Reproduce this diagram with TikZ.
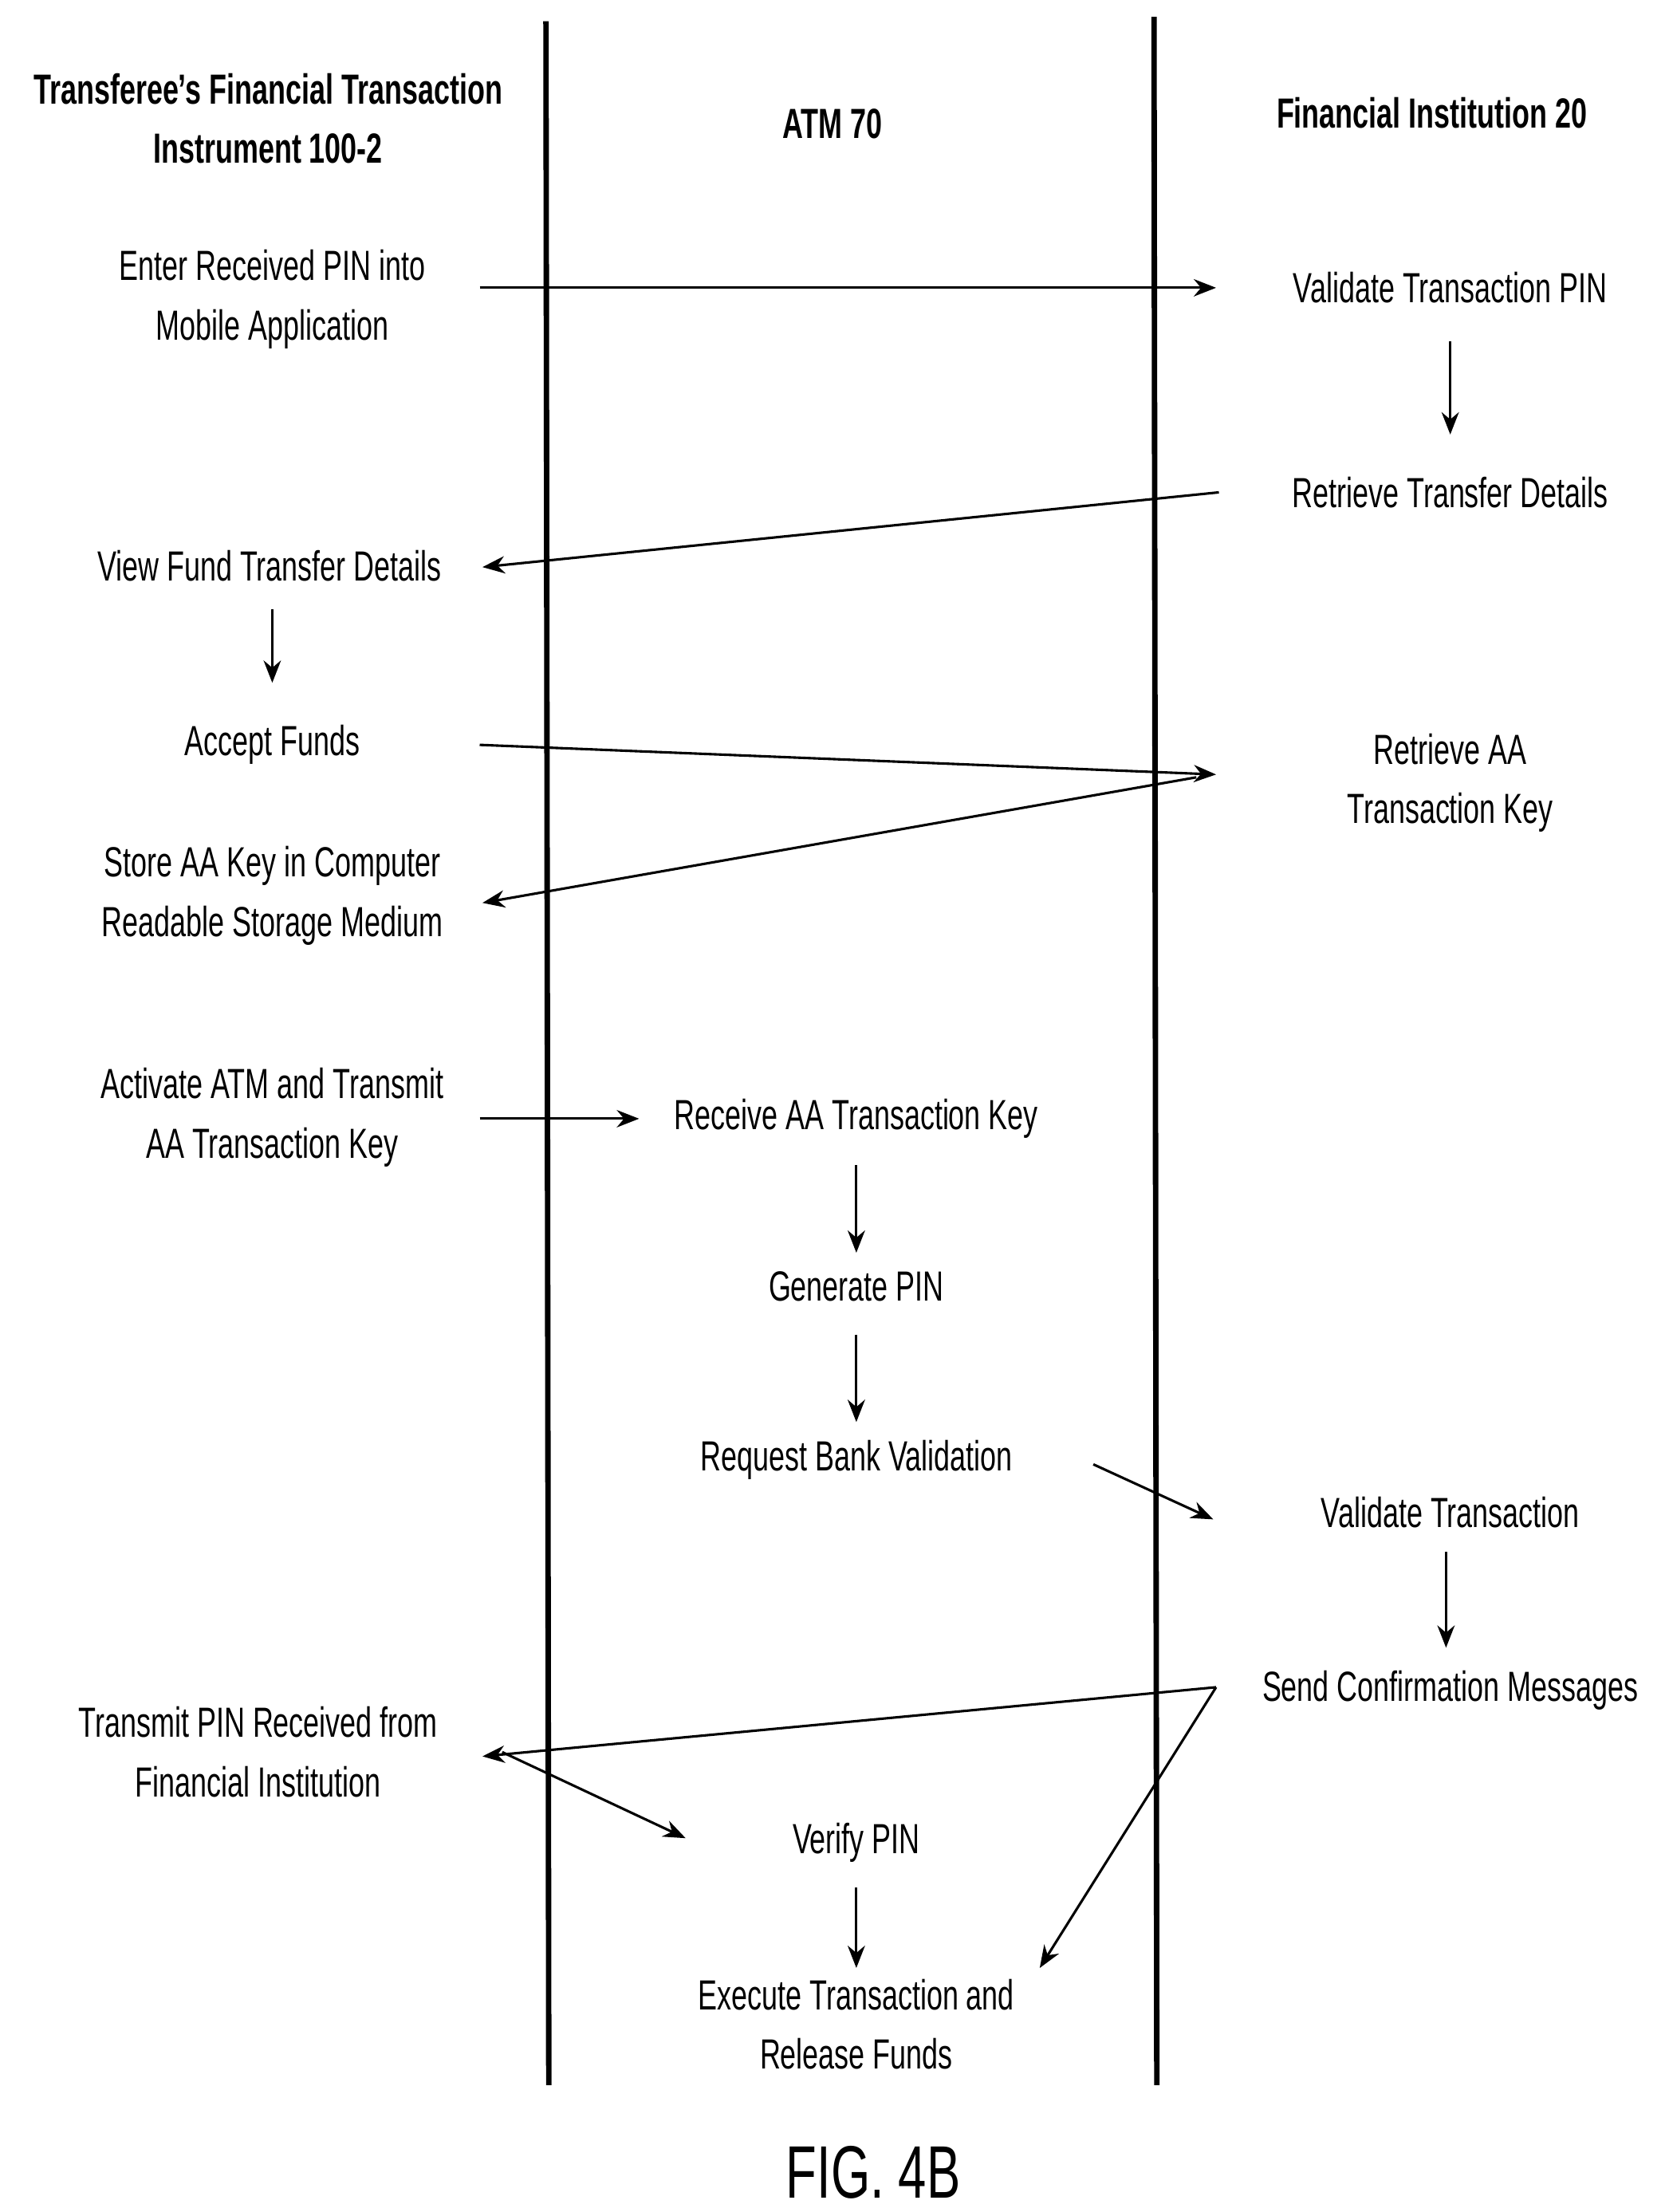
\documentclass[tikz,border=0pt]{standalone}
\usepackage{fontspec}
\setmainfont{Liberation Sans}
\newfontfamily\nar[FakeStretch=0.68]{Liberation Sans}
\usetikzlibrary{arrows.meta}
\begin{document}
\begin{tikzpicture}[x=0.02cm,y=-0.02cm,
  lbl/.style={font=\nar\fontsize{17}{24}\selectfont,align=center,inner sep=0pt},
  hdr/.style={font=\nar\fontsize{17}{24}\selectfont\bfseries,align=center,inner sep=0pt},
  life/.style={line width=2.2pt},
  arr/.style={line width=1pt,-{Stealth[length=9pt,width=7pt]}}]
\useasboundingbox (0,0) rectangle (1183,1568);
\coordinate (l1t) at (387,15); \coordinate (l1b) at (389,1478);
\coordinate (l2t) at (818,12); \coordinate (l2b) at (820,1478);
\draw[life] (l1t)--(l1b); \draw[life] (l2t)--(l2b);
\node[hdr] (h1) at (190,84) {Transferee’s Financial Transaction\\Instrument 100-2};
\node[hdr] (h2) at (590,88) {ATM 70};
\node[hdr] (h3) at (1015,80) {Financial Institution 20};
\node[lbl] (a) at (193,212) {Enter Received PIN into\\Mobile Application};
\node[lbl] (b) at (1028,204) {Validate Transaction PIN};
\node[lbl] (c) at (1028,349) {Retrieve Transfer Details};
\node[lbl] (d) at (191,401) {View Fund Transfer Details};
\node[lbl] (e) at (193,528) {Accept Funds};
\node[lbl] (f) at (1028,555) {Retrieve AA\\Transaction Key};
\node[lbl] (g) at (193,635) {Store AA Key in Computer\\Readable Storage Medium};
\node[lbl] (h) at (193,792) {Activate ATM and Transmit\\AA Transaction Key};
\node[lbl] (i) at (607,793) {Receive AA Transaction Key};
\node[lbl] (j) at (607,912) {Generate PIN};
\node[lbl] (k) at (607,1035) {Request Bank Validation};
\node[lbl] (l) at (1028,1072) {Validate Transaction};
\node[lbl] (m) at (1028,1198) {Send Confirmation Messages};
\node[lbl] (n) at (183,1242) {Transmit PIN Received from\\Financial Institution};
\node[lbl] (o) at (607,1306) {Verify PIN};
\node[lbl] (p) at (607,1435) {Execute Transaction and\\Release Funds};
\node[font=\nar\fontsize{30}{36}\selectfont,inner sep=0pt] (fig) at (619,1540) {FIG. 4B};
\coordinate (a1) at (340,204); \coordinate (b1) at (862,204);
\coordinate (b2) at (1028,242); \coordinate (c1) at (1028,308);
\coordinate (c2) at (864,349); \coordinate (d1) at (342,402);
\coordinate (d2) at (193,432); \coordinate (e1) at (193,484);
\coordinate (e2) at (340,528); \coordinate (f1) at (862,549);
\coordinate (f2) at (848,551); \coordinate (g1) at (342,640);
\coordinate (h1a) at (340,793); \coordinate (i1) at (453,793);
\coordinate (i2) at (607,826); \coordinate (j1) at (607,888);
\coordinate (j2) at (607,946); \coordinate (k1) at (607,1008);
\coordinate (k2) at (775,1038); \coordinate (l1) at (860,1077);
\coordinate (l2) at (1025,1100); \coordinate (m1) at (1025,1168);
\coordinate (m2) at (862,1196); \coordinate (n1) at (342,1245);
\coordinate (n2) at (356,1242); \coordinate (o1) at (486,1303);
\coordinate (p1) at (737,1395);
\coordinate (o2) at (607,1338); \coordinate (p2) at (607,1395);
\draw[arr] (a1)--(b1);
\draw[arr] (b2)--(c1);
\draw[arr] (c2)--(d1);
\draw[arr] (d2)--(e1);
\draw[arr] (e2)--(f1);
\draw[arr] (f2)--(g1);
\draw[arr] (h1a)--(i1);
\draw[arr] (i2)--(j1);
\draw[arr] (j2)--(k1);
\draw[arr] (k2)--(l1);
\draw[arr] (l2)--(m1);
\draw[arr] (m2)--(n1);
\draw[arr] (n2)--(o1);
\draw[arr] (m2)--(p1);
\draw[arr] (o2)--(p2);
\end{tikzpicture}
\end{document}
